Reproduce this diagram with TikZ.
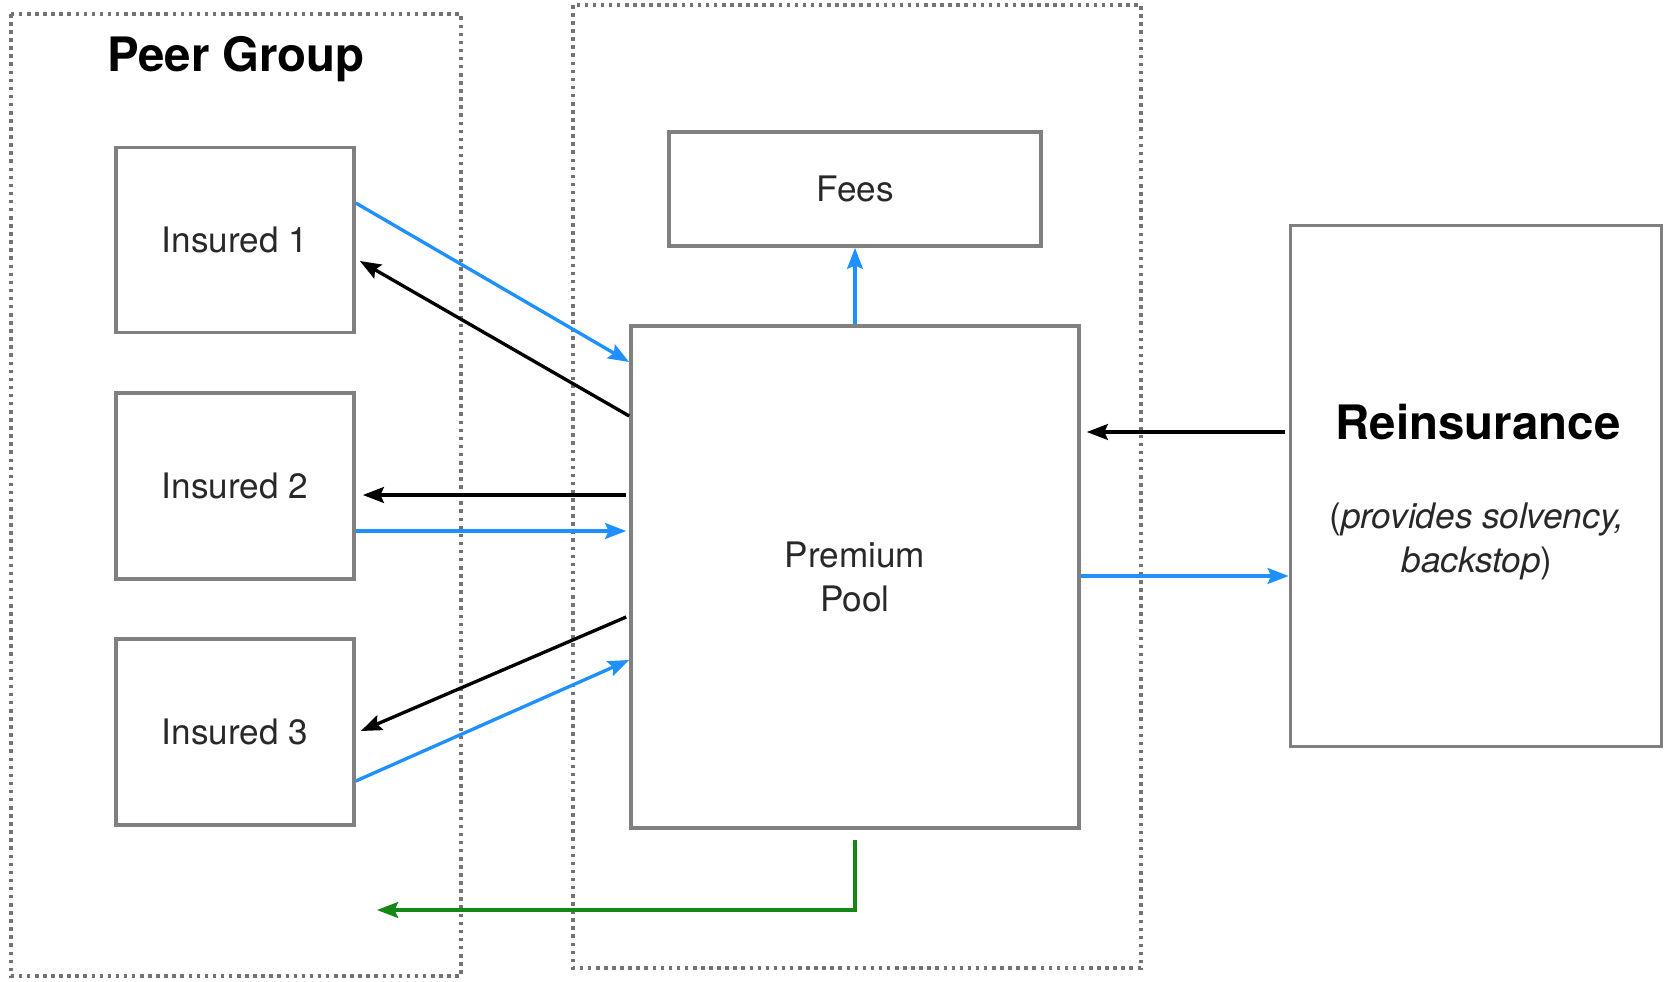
\documentclass[tikz,border=0pt]{standalone}
\usepackage{fontspec}
\setmainfont{TeX Gyre Heros}
\usetikzlibrary{arrows.meta}
\usetikzlibrary{calc,positioning}

\definecolor{flowblue}{RGB}{30,144,255}
\definecolor{flowgreen}{RGB}{20,135,20}
\definecolor{boxgray}{RGB}{128,128,128}
\definecolor{txtgray}{RGB}{40,40,40}

\begin{document}
\begin{tikzpicture}[>={Stealth[length=12pt,width=9pt,inset=2pt]},
    x=0.02cm, y=-0.02cm,
    grupo/.style={draw=boxgray!90!black, line width=2pt, dash pattern=on 2pt off 2.6pt},
    caixa/.style={draw=boxgray, line width=2.1pt, fill=white, text=txtgray,
        font=\fontsize{20}{25}\selectfont, align=center, inner sep=0pt},
    titulo/.style={font=\fontsize{27}{32}\selectfont\bfseries},
    seta/.style={->, line width=1.9pt},
    pagamento/.style={seta, flowblue},
    retorno/.style={seta, black},
    sobra/.style={seta, flowgreen}]

    \useasboundingbox (0,0) rectangle (1664,981);

    % grupos pontilhados
    \draw[grupo] (11,14) rectangle (461,976);
    \draw[grupo] (573,5) rectangle (1141,968);

    % caixas
    \node[titulo] (peer) at (236,59) {Peer Group};
    \node[caixa, minimum width=4.76cm, minimum height=3.7cm] (ins1) at (235,240) {Insured 1};
    \node[caixa, minimum width=4.76cm, minimum height=3.72cm] (ins2) at (235,486) {Insured 2};
    \node[caixa, minimum width=4.76cm, minimum height=3.72cm] (ins3) at (235,732) {Insured 3};
    \node[caixa, minimum width=7.44cm, minimum height=2.28cm] (fees) at (855,189) {Fees};
    \node[caixa, minimum width=8.96cm, minimum height=10.04cm] (pool) at (855,577) {Premium\\Pool};
    \node[caixa, minimum width=7.42cm, minimum height=10.42cm] (reins) at (1476,486) {};
    \node[titulo] (reinsname) at (1478,422) {Reinsurance};
    \node[caixa, draw=none, fill=none] (reinsnote) at (1477,541)
        {(\textit{provides solvency,}\\\textit{backstop})};

    % setas entre grupo e pool
    \draw[pagamento] ($(ins1.east)+(0,-37)$) -- ($(pool.west)+(0,-215)$);
    \draw[retorno] ($(pool.west)+(0,-161)$) -- ($(ins1.east)+(4,21)$);
    \draw[retorno] ($(pool.west)+(-3,-82)$) -- ($(ins2.east)+(7,9)$);
    \draw[pagamento] ($(ins2.east)+(0,45)$) -- ($(pool.west)+(-3,-46)$);
    \draw[retorno] ($(pool.west)+(-3,40)$) -- ($(ins3.east)+(5,-1)$);
    \draw[pagamento] ($(ins3.east)+(0,49)$) -- ($(pool.west)+(0,83)$);

    % taxas e resseguro
    \draw[pagamento] (pool.north) -- (fees.south);
    \draw[retorno] ($(reins.west)+(-4,-54)$) -- ($(pool.east)+(6,-145)$);
    \draw[pagamento] ($(pool.east)+(0,-1)$) -- ($(reins.west)+(0,90)$);

    % sobra devolvida
    \coordinate (volta) at (377,910);
    \draw[sobra] ($(pool.south)+(0,10)$) |- (volta);

\end{tikzpicture}
\end{document}
